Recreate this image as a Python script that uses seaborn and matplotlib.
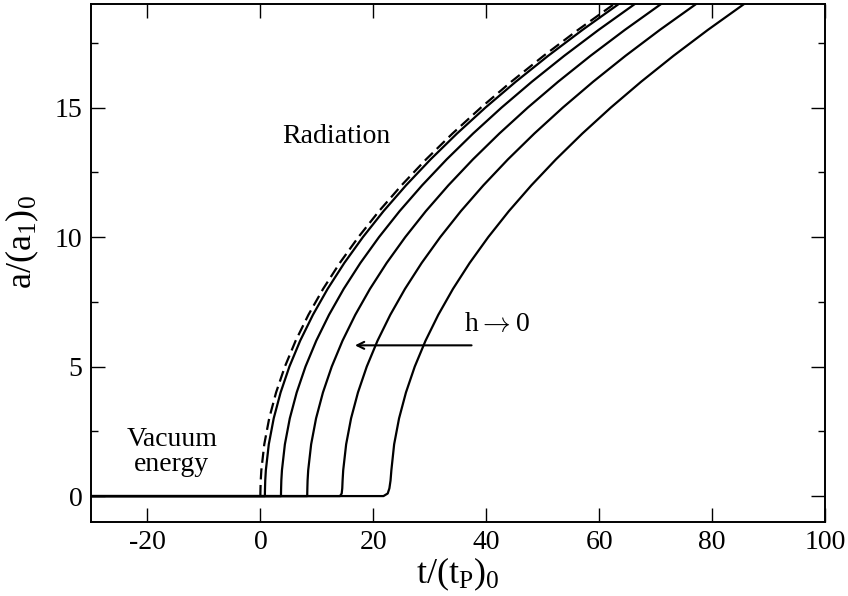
import numpy as np
import pandas as pd
import matplotlib
matplotlib.use("Agg")
import matplotlib.pyplot as plt
from matplotlib.ticker import MultipleLocator
import seaborn as sns

# ---- data ----
a_levels = [0, 0.1, 0.3, 0.6, 1, 2, 3, 4, 5, 6, 7, 8, 9, 10, 11, 12, 13, 14, 15, 16, 17, 18, 19]

t_dashed = [0.0, 0.0, 0.02, 0.06, 0.17, 0.69, 1.56, 2.78, 4.34, 6.25, 8.51, 11.11, 14.06,
            17.36, 21.0, 25.0, 29.34, 34.03, 39.06, 44.44, 50.17, 56.25, 62.67]
t_s1 = [0.8, 0.8, 0.82, 0.86, 0.97, 1.49, 2.36, 3.58, 5.14, 7.05, 9.31, 11.91, 14.86,
        18.16, 21.8, 25.8, 30.14, 34.83, 39.86, 45.24, 50.97, 57.05, 63.47]
t_s2 = [3.65, 3.65, 3.67, 3.71, 3.82, 4.34, 5.21, 6.43, 7.99, 9.9, 12.16, 14.76, 17.71,
        21.01, 24.65, 28.65, 32.99, 37.68, 42.71, 48.09, 53.82, 59.9, 66.32]
t_s3 = [8.3, 8.3, 8.32, 8.36, 8.47, 8.99, 9.86, 11.08, 12.64, 14.55, 16.81, 19.41, 22.36,
        25.66, 29.3, 33.3, 37.64, 42.33, 47.36, 52.74, 58.47, 64.55, 70.97]
t_s4 = [14.1, 14.4, 14.5, 14.56, 14.67, 15.19, 16.06, 17.28, 18.84, 20.75, 23.01, 25.61, 28.56,
        31.86, 35.5, 39.5, 43.84, 48.53, 53.56, 58.94, 64.67, 70.75, 77.17]
t_s5 = [21.8, 22.55, 22.85, 23.05, 23.2, 23.69, 24.56, 25.78, 27.34, 29.25, 31.51, 34.11, 37.06,
        40.36, 44.0, 48.0, 52.34, 57.03, 62.06, 67.44, 73.17, 79.25, 85.67]

t_start = -30.0
solid_curves = [t_s1, t_s2, t_s3, t_s4, t_s5]

x_ticks = [-20, 0, 20, 40, 60, 80, 100]
y_ticks = [0, 5, 10, 15]

# ---- style ----
sns.set_style("ticks")
plt.rcParams["font.family"] = ["Liberation Serif", "DejaVu Serif"]
plt.rcParams["mathtext.fontset"] = "custom"
plt.rcParams["mathtext.rm"] = "Liberation Serif"
plt.rcParams["mathtext.it"] = "Liberation Serif:italic"
for k in ["text.color", "axes.labelcolor", "xtick.color", "ytick.color", "axes.edgecolor"]:
    plt.rcParams[k] = "black"

fig = plt.figure(figsize=(8.48, 5.96), dpi=100)
ax = fig.add_axes([0.1073, 0.1242, 0.8656, 0.8691])

for i, tc in enumerate(solid_curves):
    df = pd.DataFrame({"t": [t_start] + tc, "a": [0] + a_levels})
    sns.lineplot(data=df, x="t", y="a", sort=False, estimator=None,
                 color="black", lw=1.6, ax=ax)

df_d = pd.DataFrame({"t": t_dashed, "a": a_levels})
sns.lineplot(data=df_d, x="t", y="a", sort=False, estimator=None,
             color="black", lw=1.6, ls=(0, (5, 2.5)), ax=ax)

ax.set_xlim(-30, 100)
ax.set_ylim(-1, 19)
ax.set_xticks(x_ticks)
ax.set_xticklabels([str(v) for v in x_ticks])
ax.set_yticks(y_ticks)
ax.set_yticklabels([str(v) for v in y_ticks])
ax.yaxis.set_minor_locator(MultipleLocator(2.5))

ax.tick_params(which="both", direction="in", top=True, right=True,
               labelsize=20, colors="black", width=1.0)
ax.tick_params(which="major", length=10, pad=6)
ax.tick_params(which="minor", length=5)
for s in ax.spines.values():
    s.set_linewidth(1.4)
    s.set_color("black")

ax.set_xlabel(r"t/(t$_\mathregular{P}$)$_\mathregular{0}$", fontsize=26, labelpad=0)
ax.set_ylabel(r"a/(a$_\mathregular{1}$)$_\mathregular{0}$", fontsize=26)
ax.yaxis.set_label_coords(-0.068, 0.54)

ax.text(13.4, 13.63, "Radiation", fontsize=20, ha="center", va="baseline")
ax.text(-15.7, 1.93, "Vacuum", fontsize=20, ha="center", va="baseline")
ax.text(-15.7, 0.98, "energy", fontsize=20, ha="center", va="baseline")
ax.text(42.0, 6.37, r"h$\rightarrow$0", fontsize=20, ha="center", va="baseline",
        math_fontfamily="cm")

ax.annotate("", xy=(16.75, 5.82), xytext=(37.4, 5.82),
            arrowprops=dict(arrowstyle="->,head_length=0.5,head_width=0.25",
                            color="black", lw=1.5, shrinkA=0, shrinkB=0))

fig.savefig("out.png", dpi=100)
